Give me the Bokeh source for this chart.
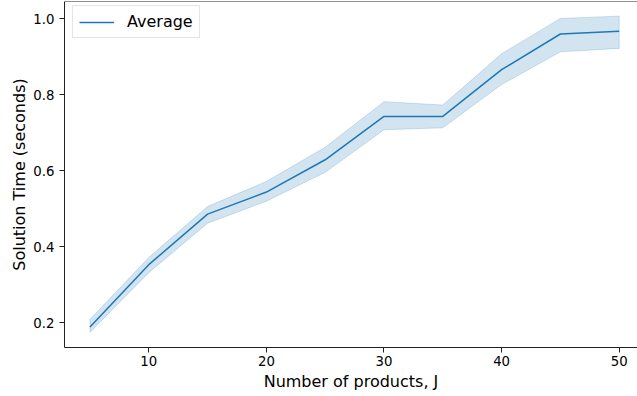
from bokeh.plotting import figure
from bokeh.models import Range1d, FixedTicker, PrintfTickFormatter, Legend, LegendItem, Span
from bokeh.embed import file_html
from bokeh.resources import INLINE

# Data
products = [5, 10, 15, 20, 25, 30, 35, 40, 45, 50]
avg_time = [0.189, 0.353, 0.486, 0.544, 0.629, 0.743, 0.743, 0.866, 0.960, 0.967]
ci_upper = [0.209, 0.372, 0.506, 0.572, 0.662, 0.782, 0.773, 0.908, 1.001, 1.007]
ci_lower = [0.175, 0.332, 0.462, 0.520, 0.596, 0.708, 0.713, 0.827, 0.913, 0.922]
x_ticks = [10, 20, 30, 40, 50]
y_ticks = [0.2, 0.4, 0.6, 0.8, 1.0]

FONT = "DejaVu Sans"
BLUE = "#1f77b4"
Y_TOP = 1.0455

p = figure(width=637, height=396, output_backend="svg", toolbar_location=None,
           x_range=Range1d(2.832, 51.557), y_range=Range1d(0.135, Y_TOP),
           min_border_left=64, min_border_right=0, min_border_top=1, min_border_bottom=49)
p.outline_line_color = None
p.xgrid.visible = False
p.ygrid.visible = False
p.background_fill_color = "white"
p.border_fill_color = "white"

# confidence band
band_x = products + products[::-1]
band_y = ci_upper + ci_lower[::-1]
p.patch(band_x, band_y, fill_color=BLUE, fill_alpha=0.2, line_color=BLUE, line_alpha=0.2, line_width=1)
line = p.line(products, avg_time, line_color=BLUE, line_width=1.5)

for ax in (p.xaxis[0], p.yaxis[0]):
    ax.axis_line_color = "#222222"
    ax.axis_line_width = 1
    ax.major_tick_line_color = "#222222"
    ax.major_tick_out = 5
    ax.major_tick_in = 0
    ax.minor_tick_line_color = None
    ax.major_label_text_font = FONT
    ax.major_label_text_font_size = "13.3px"
    ax.major_label_text_color = "black"
    ax.axis_label_text_font = FONT
    ax.axis_label_text_font_size = "16px"
    ax.axis_label_text_font_style = "normal"
    ax.axis_label_text_color = "black"

p.xaxis[0].major_label_standoff = 3
p.yaxis[0].major_label_standoff = 5
p.xaxis[0].ticker = FixedTicker(ticks=x_ticks)
p.yaxis[0].ticker = FixedTicker(ticks=y_ticks)
p.yaxis[0].formatter = PrintfTickFormatter(format="%.1f")
p.yaxis[0].axis_label = "Solution Time (seconds)"
p.yaxis[0].axis_label_standoff = 1
p.xaxis[0].axis_label = "Number of products, J"
p.xaxis[0].axis_label_standoff = 3

# top spine
p.add_layout(Span(location=Y_TOP, dimension="width", line_color="#222222", line_width=1))

legend = Legend(items=[LegendItem(label="Average", renderers=[line])],
                location=(8, 309), margin=0, padding=6, spacing=0,
                glyph_width=35, glyph_height=16, label_height=16, label_standoff=13,
                label_text_font=FONT, label_text_font_size="16px", label_text_color="black",
                border_line_color="#cccccc", border_line_width=1,
                background_fill_color="white", background_fill_alpha=0.8)
p.add_layout(legend, "center")

open("out.html", "w").write(file_html(p, INLINE))
